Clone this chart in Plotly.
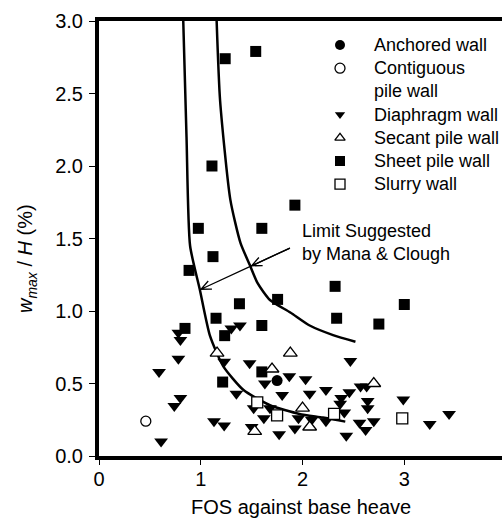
import math
import plotly.graph_objects as go

# Factor of safety against base heave vs. normalised maximum wall deflection
anchored_x = [1.75]
anchored_y = [0.52]

contiguous_x = [0.46]
contiguous_y = [0.24]

diaphragm_x = [0.78, 0.80, 1.30, 1.385, 0.78, 1.23, 1.48, 0.59, 1.87, 2.03,
               1.63, 1.35, 1.80, 2.07, 0.80, 0.74, 1.52, 1.68, 1.62, 1.96,
               2.09, 1.13, 1.23, 1.50, 1.77, 1.925, 0.61, 2.47, 2.23, 2.46,
               2.57, 2.63, 2.38, 2.37, 2.64, 2.64, 2.41, 2.99, 3.44, 3.25,
               2.23, 2.43, 2.56, 2.62, 2.70]
diaphragm_y = [0.85, 0.80, 0.88, 0.90, 0.67, 0.65, 0.64, 0.58, 0.55, 0.53,
               0.50, 0.43, 0.42, 0.43, 0.40, 0.345, 0.33, 0.33, 0.26, 0.26,
               0.25, 0.24, 0.21, 0.20, 0.15, 0.19, 0.10, 0.655, 0.455, 0.44,
               0.48, 0.48, 0.40, 0.36, 0.38, 0.33, 0.30, 0.39, 0.29, 0.22,
               0.24, 0.14, 0.23, 0.18, 0.24]

secant_x = [1.16, 1.88, 1.70, 2.00, 1.53, 2.07, 2.70]
secant_y = [0.71, 0.71, 0.60, 0.33, 0.17, 0.20, 0.50]

sheet_x = [1.24, 1.54, 1.11, 1.925, 0.976, 1.60, 1.12, 0.885, 2.32, 1.38,
           1.755, 3.00, 1.15, 1.60, 0.845, 1.235, 1.60, 1.215, 2.335, 2.75]
sheet_y = [2.74, 2.79, 2.00, 1.73, 1.57, 1.57, 1.375, 1.28, 1.17, 1.05,
           1.08, 1.045, 0.95, 0.90, 0.88, 0.83, 0.58, 0.51, 0.95, 0.91]

slurry_x = [1.555, 1.75, 2.31, 2.98]
slurry_y = [0.37, 0.28, 0.29, 0.26]

# Limit curves (Mana & Clough)
limit_lower_x = [0.828, 0.86, 0.895, 0.99, 1.09, 1.22, 1.42, 1.68, 1.97, 2.2, 2.42]
limit_lower_y = [3.0, 2.2, 1.45, 1.15, 0.83, 0.62, 0.455, 0.35, 0.29, 0.265, 0.237]
limit_upper_x = [1.156, 1.19, 1.29, 1.39, 1.48, 1.56, 1.68, 1.88, 2.07, 2.30, 2.52]
limit_upper_y = [3.0, 2.45, 1.77, 1.47, 1.32, 1.19, 1.076, 0.99, 0.90, 0.834, 0.788]

x_ticks = [0, 1, 2, 3]
y_ticks = [0.0, 0.5, 1.0, 1.5, 2.0, 2.5, 3.0]

# Legend entries: label lines, in key order
legend_labels = [["Anchored wall"], ["Contiguous", "pile wall"], ["Diaphragm wall"],
                 ["Secant pile wall"], ["Sheet pile wall"], ["Slurry wall"]]

FONT = "Liberation Sans, Arial, Helvetica, sans-serif"
W, H = 502, 521
ML, MR, MT, MB = 99, 0, 21, 65
X_RANGE = [0, 3.96]
Y_RANGE = [0, 3.0]
PX_X = (W - ML - MR) / (X_RANGE[1] - X_RANGE[0])
PX_Y = (H - MT - MB) / (Y_RANGE[1] - Y_RANGE[0])

fig = go.Figure()

for cx, cy in [(limit_lower_x, limit_lower_y), (limit_upper_x, limit_upper_y)]:
    fig.add_trace(go.Scatter(
        x=cx, y=cy, mode="lines", showlegend=False, hoverinfo="skip",
        line=dict(color="black", width=2.5, shape="spline", smoothing=0.6),
    ))

series = {
    "Anchored wall": (anchored_x, anchored_y, "circle", "black", 11),
    "Contiguous pile wall": (contiguous_x, contiguous_y, "circle", "white", 10),
    "Diaphragm wall": (diaphragm_x, diaphragm_y, "triangle-down", "black", 12),
    "Secant pile wall": (secant_x, secant_y, "triangle-up", "white", 12),
    "Sheet pile wall": (sheet_x, sheet_y, "square", "black", 11),
    "Slurry wall": (slurry_x, slurry_y, "square", "white", 11),
}
draw_order = ["Diaphragm wall", "Sheet pile wall", "Anchored wall",
              "Contiguous pile wall", "Secant pile wall", "Slurry wall"]


def marker_style(symbol, fill, size):
    return dict(symbol=symbol, size=size, color=fill,
                line=dict(color="black", width=1.3 if fill == "white" else 0))


for name in draw_order:
    xs, ys, symbol, fill, size = series[name]
    fig.add_trace(go.Scatter(x=xs, y=ys, mode="markers", name=name,
                             showlegend=False, marker=marker_style(symbol, fill, size)))

# Key drawn inside the plot, upper right
key_x_px, key_text_px = 340, 372
row_px = 45
row_step = 23.2
for label_lines, name in zip(legend_labels, series.keys()):
    _, _, symbol, fill, _ = series[name]
    ky = (H - MB - row_px) / PX_Y
    fig.add_trace(go.Scatter(
        x=[(key_x_px - ML) / PX_X], y=[ky], mode="markers", showlegend=False,
        hoverinfo="skip", cliponaxis=False,
        marker=marker_style(symbol, fill, 9 if "triangle" in symbol else 10),
    ))
    for line in label_lines:
        fig.add_annotation(
            x=(key_text_px - ML) / PX_X, y=(H - MB - row_px) / PX_Y,
            xref="x", yref="y", xanchor="left", yanchor="middle", showarrow=False,
            text=line, font=dict(family=FONT, size=18, color="black"),
        )
        row_px += row_step


# Arrow from the label to both limit curves, drawn with open heads
def arrow_path(x0, y0, x1, y1, head_px=11, spread_deg=24):
    dx, dy = (x1 - x0) * PX_X, (y1 - y0) * PX_Y
    ang = math.atan2(dy, dx)
    pts = []
    for s in (+1, -1):
        a = ang + math.pi + s * math.radians(spread_deg)
        pts.append((x1 + head_px * math.cos(a) / PX_X, y1 + head_px * math.sin(a) / PX_Y))
    return (f"M {x0},{y0} L {x1},{y1} "
            f"M {pts[0][0]},{pts[0][1]} L {x1},{y1} L {pts[1][0]},{pts[1][1]}")


arrow_tail = (1.876, 1.434)
for tip in [(1.002, 1.15), (1.50, 1.312)]:
    fig.add_shape(type="path", xref="x", yref="y",
                  path=arrow_path(arrow_tail[0], arrow_tail[1], tip[0], tip[1]),
                  line=dict(color="black", width=1.3))

fig.add_annotation(
    x=1.975, y=1.472, xref="x", yref="y", xanchor="left", yanchor="middle",
    text="Limit Suggested<br>by Mana & Clough", showarrow=False, align="left",
    font=dict(family=FONT, size=18, color="black"),
)

# Axis titles
fig.add_annotation(
    x=0.5, y=-0.117, xref="paper", yref="paper", xanchor="center", yanchor="middle",
    text="FOS against base heave", showarrow=False,
    font=dict(family=FONT, size=20, color="black"),
)
fig.add_annotation(
    x=-0.178, y=1.36, xref="paper", yref="y", xanchor="center", yanchor="middle",
    text="<i>w</i><sub><i>max</i></sub> / <i>H</i> (%)", showarrow=False, textangle=-90,
    font=dict(family=FONT, size=20, color="black"),
)

fig.update_layout(
    width=W, height=H,
    margin=dict(l=ML, r=MR, t=MT, b=MB),
    paper_bgcolor="white", plot_bgcolor="white",
    font=dict(family=FONT, size=20, color="black"),
    showlegend=False,
    xaxis=dict(
        range=X_RANGE, tickvals=x_ticks, ticktext=[str(v) for v in x_ticks],
        showgrid=False, zeroline=False, showline=True, linewidth=4, linecolor="black",
        mirror=True, ticks="outside", ticklen=5, tickwidth=1, tickcolor="black",
        ticklabelstandoff=-3,
    ),
    yaxis=dict(
        range=Y_RANGE, tickvals=y_ticks, ticktext=[f"{v:.1f}" for v in y_ticks],
        showgrid=False, zeroline=False, showline=True, linewidth=4, linecolor="black",
        mirror=False, ticks="outside", ticklen=6, tickwidth=1, tickcolor="black",
        ticklabelstandoff=2,
    ),
)

fig.write_html("out.html")
